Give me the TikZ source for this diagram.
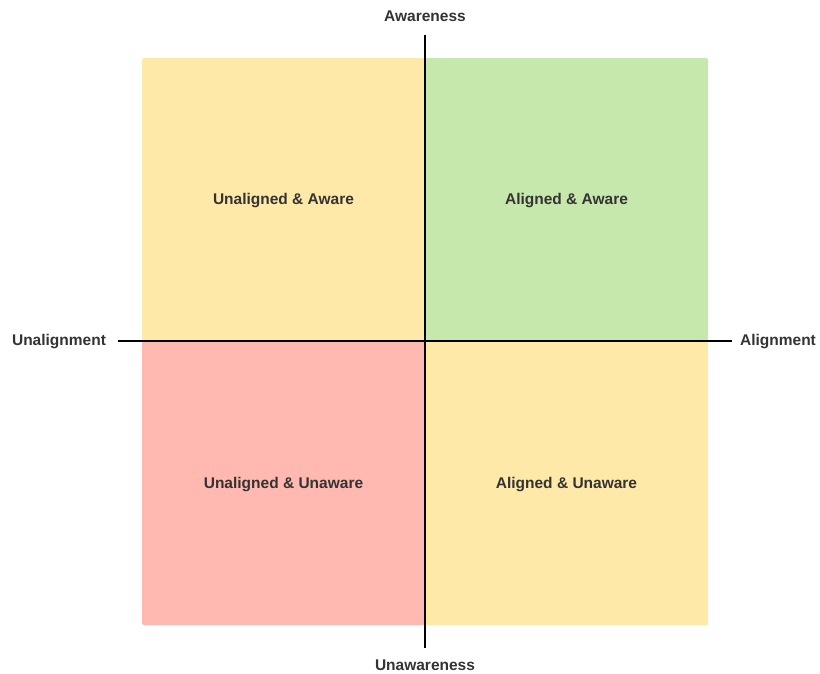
\documentclass[tikz,border=0pt]{standalone}
\usepackage{fontspec}
\setmainfont{Liberation Sans}
\definecolor{qyellow}{HTML}{FFE9A8}
\definecolor{qgreen}{HTML}{C7E8AC}
\definecolor{qred}{HTML}{FFB9B0}
\definecolor{txt}{HTML}{333333}
\begin{document}
\begin{tikzpicture}[x=1pt,y=-1pt,
  lbl/.style={font=\fontsize{15.5}{18}\selectfont\bfseries, text=txt, inner sep=0pt},
  axis/.style={line width=2pt, black}]
\useasboundingbox (0,0) rectangle (820,673);
\fill[qyellow, rounded corners=2pt] (142,58) rectangle (425,341);
\fill[qgreen, rounded corners=2pt] (425,58) rectangle (708,341);
\fill[qred, rounded corners=2pt] (142,341) rectangle (425,625);
\fill[qyellow, rounded corners=2pt] (425,341) rectangle (708,625);
\node[lbl] (ua) at (283.5,201) {Unaligned \& Aware};
\node[lbl] (aa) at (566.5,201) {Aligned \& Aware};
\node[lbl] (uu) at (283.5,484.5) {Unaligned \& Unaware};
\node[lbl] (au) at (566.5,484.5) {Aligned \& Unaware};
\node[lbl] (top) at (425,16.5) {Awareness};
\node[lbl] (bot) at (425,665.5) {Unawareness};
\node[lbl] (left) at (59,341.5) {Unalignment};
\node[lbl] (right) at (778,341.5) {Alignment};
\coordinate (vt) at (425,35);
\coordinate (vb) at (425,648);
\coordinate (hl) at (118,341);
\coordinate (hr) at (732,341);
\draw[axis] (vt) -- (vb);
\draw[axis] (hl) -- (hr);
\end{tikzpicture}
\end{document}
